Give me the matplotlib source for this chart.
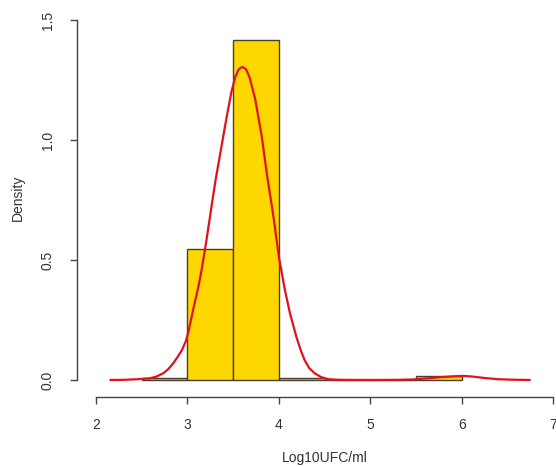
import matplotlib.pyplot as plt
import numpy as np

plt.rcParams['font.family'] = ['Liberation Sans', 'DejaVu Sans']

# histogram (density scale), bins of width 0.5
bin_edges = [2.5, 3.0, 3.5, 4.0, 4.5, 5.0, 5.5, 6.0]
bin_density = [0.009, 0.545, 1.418, 0.009, 0.0, 0.0, 0.018]

# kernel density curve
kde_x = [2.16, 2.30, 2.45, 2.59, 2.66, 2.735, 2.79, 2.845, 2.89, 2.94, 2.98,
         3.01, 3.035, 3.06, 3.09, 3.12, 3.145, 3.166, 3.20, 3.24, 3.275,
         3.31, 3.37, 3.43, 3.48, 3.52, 3.56, 3.60, 3.64, 3.68, 3.74, 3.81,
         3.865, 3.94, 4.00, 4.065, 4.12, 4.19, 4.235, 4.28, 4.33, 4.39,
         4.46, 4.54, 4.65, 4.80, 5.00, 5.30, 5.46, 5.60, 5.75, 5.90, 6.01,
         6.12, 6.25, 6.40, 6.55, 6.74]
kde_y = [0.0, 0.0005, 0.003, 0.007, 0.014, 0.028, 0.045, 0.07, 0.095, 0.125,
         0.16, 0.20, 0.245, 0.29, 0.34, 0.39, 0.44, 0.486, 0.565, 0.665, 0.755,
         0.84, 0.97, 1.10, 1.20, 1.26, 1.295, 1.305, 1.295, 1.26, 1.17, 1.02,
         0.865, 0.68, 0.51, 0.375, 0.278, 0.18, 0.127, 0.083, 0.05, 0.028,
         0.012, 0.003, 0.0008, 0.0002, 0.0, 0.0005, 0.002, 0.006, 0.011,
         0.015, 0.017, 0.014, 0.008, 0.003, 0.001, 0.0]

x_ticks = [2, 3, 4, 5, 6, 7]
y_ticks = [0.0, 0.5, 1.0, 1.5]

fig = plt.figure(figsize=(5.56, 4.67), dpi=100)
ax = fig.add_axes([0.1385, 0.1499, 0.865, 0.838])

widths = np.diff(bin_edges)
ax.bar(bin_edges[:-1], bin_density, width=widths, align='edge',
       color='#ffd700', edgecolor='#4a3f2c', linewidth=1.0, zorder=2)
ax.plot(kde_x, kde_y, color='#e3101e', linewidth=1.6, zorder=3,
        solid_joinstyle='round')

ax.set_xlim(1.792, 7.05)
ax.set_ylim(-0.071, 1.56)

for s in ['top', 'right']:
    ax.spines[s].set_visible(False)
ax.spines['left'].set_bounds(0, 1.5)
ax.spines['bottom'].set_bounds(2, 7)
for s in ['left', 'bottom']:
    ax.spines[s].set_color('#444444')
    ax.spines[s].set_linewidth(1.0)

ax.set_xticks(x_ticks)
ax.set_xticklabels([str(t) for t in x_ticks])
ax.set_yticks(y_ticks)
ax.set_yticklabels([f"{t:.1f}" for t in y_ticks], rotation=90, va='center')
ax.tick_params(axis='both', length=5, width=1.0, color='#444444',
               labelcolor='#333333', labelsize=10)
ax.tick_params(axis='x', pad=10)
ax.tick_params(axis='y', pad=11)

ax.set_xlabel('Log10UFC/ml', fontsize=10, color='#333333', va='center')
ax.xaxis.set_label_coords(0.5156, -0.156)
ax.set_ylabel('Density', fontsize=10, color='#333333', va='center')
ax.yaxis.set_label_coords(-0.1227, 0.508)

plt.savefig('out.png', dpi=100)
